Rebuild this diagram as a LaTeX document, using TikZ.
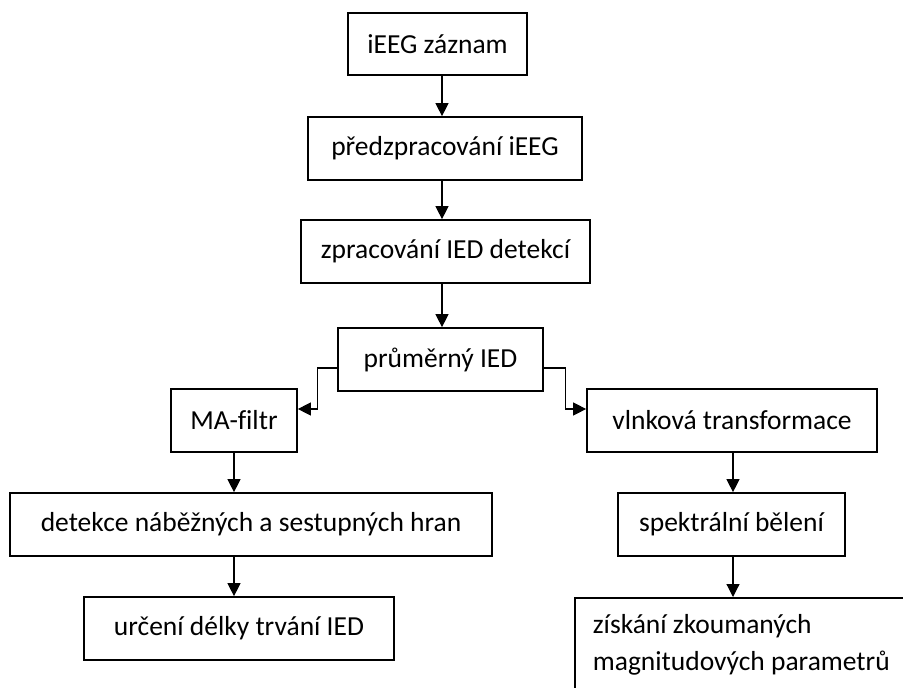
\documentclass[tikz,border=0pt]{standalone}
\usepackage{fontspec}
\setmainfont{Carlito}[Ligatures=NoCommon]
\usetikzlibrary{arrows.meta,positioning}
\tikzset{
  box/.style={draw=black, line width=1.7pt, inner sep=0pt, minimum height=63pt,
    font=\fontsize{27.5}{37}\selectfont},
  arr/.style={draw=black, line width=1.2pt, -{Triangle[length=13pt,width=13pt]}}
}

\begin{document}
\begin{tikzpicture}[x=1pt,y=-1pt]
  \useasboundingbox (0,0) rectangle (903,688);
  \clip (0,0) rectangle (903,688);

  \coordinate (osa) at (442,0);
  \coordinate (levy) at (234,0);
  \coordinate (pravy) at (733,0);
  \coordinate (odboc) at (0,368);
  \coordinate (vstup) at (0,409);

  \node[box, minimum width=179pt, minimum height=62pt] (zaznam) at (437.5,44) {iEEG záznam};
  \node[box, minimum width=274pt] (predzprac) at (445,148.5) {předzpracování iEEG};
  \node[box, minimum width=289pt] (zprac) at (445.5,251.5) {zpracování IED detekcí};
  \node[box, minimum width=205pt] (prumer) at (440.5,359.5) {průměrný IED};
  \node[box, minimum width=126pt] (ma) at (234,420.5) {MA-filtr};
  \node[box, minimum width=290pt] (vlnka) at (732,420.5) {vlnková transformace};
  \node[box, minimum width=482pt] (detekce) at (251,524.5) {detekce náběžných a sestupných hran};
  \node[box, minimum width=227pt] (spektr) at (731.5,524.5) {spektrální bělení};
  \node[box, minimum width=310pt] (urceni) at (239,628.5) {určení délky trvání IED};
  \node[box, anchor=north west, align=flush left, text width=300pt, inner xsep=18pt,
    minimum height=93pt] (ziskani) at (574,597) {získání zkoumaných\\magnitudových parametrů};

  \draw[arr] (zaznam.south -| osa) -- (predzprac.north -| osa);
  \draw[arr] (predzprac.south -| osa) -- (zprac.north -| osa);
  \draw[arr] (zprac.south -| osa) -- (prumer.north -| osa);

  \draw[arr] (prumer.west |- odboc) -- ++(-20,0) |- (ma.east |- vstup);
  \draw[arr] (prumer.east |- odboc) -- ++(22,0) |- (vlnka.west |- vstup);

  \draw[arr] (ma.south -| levy) -- (detekce.north -| levy);
  \draw[arr] (detekce.south -| levy) -- (urceni.north -| levy);
  \draw[arr] (vlnka.south -| pravy) -- (spektr.north -| pravy);
  \draw[arr] (spektr.south -| pravy) -- (ziskani.north -| pravy);
\end{tikzpicture}
\end{document}
